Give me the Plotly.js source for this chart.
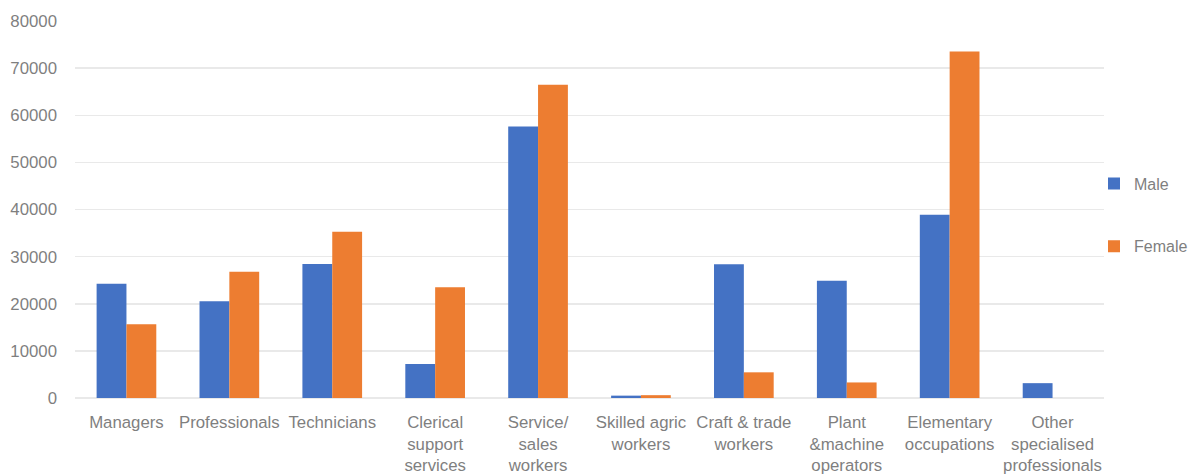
<!DOCTYPE html>
<html>
<head>
<meta charset="utf-8">
<script src="https://cdn.plot.ly/plotly-3.0.1.min.js"></script>
<style>
  html, body { margin: 0; padding: 0; background: #ffffff; }
  #chart { width: 1192px; height: 475px; }
</style>
</head>
<body>
<div id="chart"></div>
<script>
// Employment by occupation group and sex
const categories = [
  "Managers", "Professionals", "Technicians", "Clerical support services",
  "Service/ sales workers", "Skilled agric workers", "Craft & trade workers",
  "Plant &machine operators", "Elementary occupations", "Other specialised professionals"
];
const tickLabels = [
  "Managers", "Professionals", "Technicians", "Clerical<br>support<br>services",
  "Service/<br>sales<br>workers", "Skilled agric<br>workers", "Craft & trade<br>workers",
  "Plant<br>&machine<br>operators", "Elementary<br>occupations", "Other<br>specialised<br>professionals"
];
const maleValues   = [24250, 20550, 28450, 7200, 57600, 500, 28400, 24900, 38900, 3150];
const femaleValues = [15650, 26800, 35300, 23500, 66450, 600, 5450, 3300, 73550, 0];

const textColor = "#7f7f7f";
const fontFamily = "Liberation Sans, Arial, sans-serif";
const fontSize = 16.8;

const traces = [
  {
    type: "bar", name: "Male", x: categories, y: maleValues,
    marker: { color: "#4472C4" }, legendgroup: "male"
  },
  {
    type: "bar", name: "Female", x: categories, y: femaleValues,
    marker: { color: "#ED7D31" }, legendgroup: "female"
  }
];

const layout = {
  width: 1192, height: 475,
  // fixed plot area; the legend sits in the right margin without resizing it
  margin: { l: 74.5, r: 87.5, t: 21, b: 77, pad: 0, autoexpand: false },
  paper_bgcolor: "#ffffff", plot_bgcolor: "#ffffff",
  font: { family: fontFamily, size: fontSize, color: textColor },
  barmode: "group", bargap: 0.42, bargroupgap: 0,
  showlegend: true,
  legend: {
    xref: "container", yref: "container",
    x: 1094 / 1192, xanchor: "left",
    y: 1 - 215 / 475, yanchor: "middle",
    tracegroupgap: 39, borderwidth: 0,
    font: { family: fontFamily, size: 16, color: textColor },
    bgcolor: "rgba(0,0,0,0)"
  },
  xaxis: {
    type: "category",
    tickvals: categories, ticktext: tickLabels,
    tickangle: 0, ticks: "", showgrid: false, showline: false,
    ticklabelstandoff: 12,
    tickfont: { family: fontFamily, size: fontSize, color: textColor },
    automargin: false
  },
  yaxis: {
    range: [0, 80000], dtick: 10000, tickformat: "d",
    showgrid: true, gridcolor: "#e9e9e9", gridwidth: 1.5,
    zeroline: true, zerolinecolor: "#e9e9e9", zerolinewidth: 1.5,
    showline: false, ticks: "", ticklabelstandoff: 17,
    tickfont: { family: fontFamily, size: fontSize, color: textColor },
    automargin: false
  }
};

Plotly.newPlot("chart", traces, layout, { displayModeBar: false, staticPlot: true });
</script>
</body>
</html>
